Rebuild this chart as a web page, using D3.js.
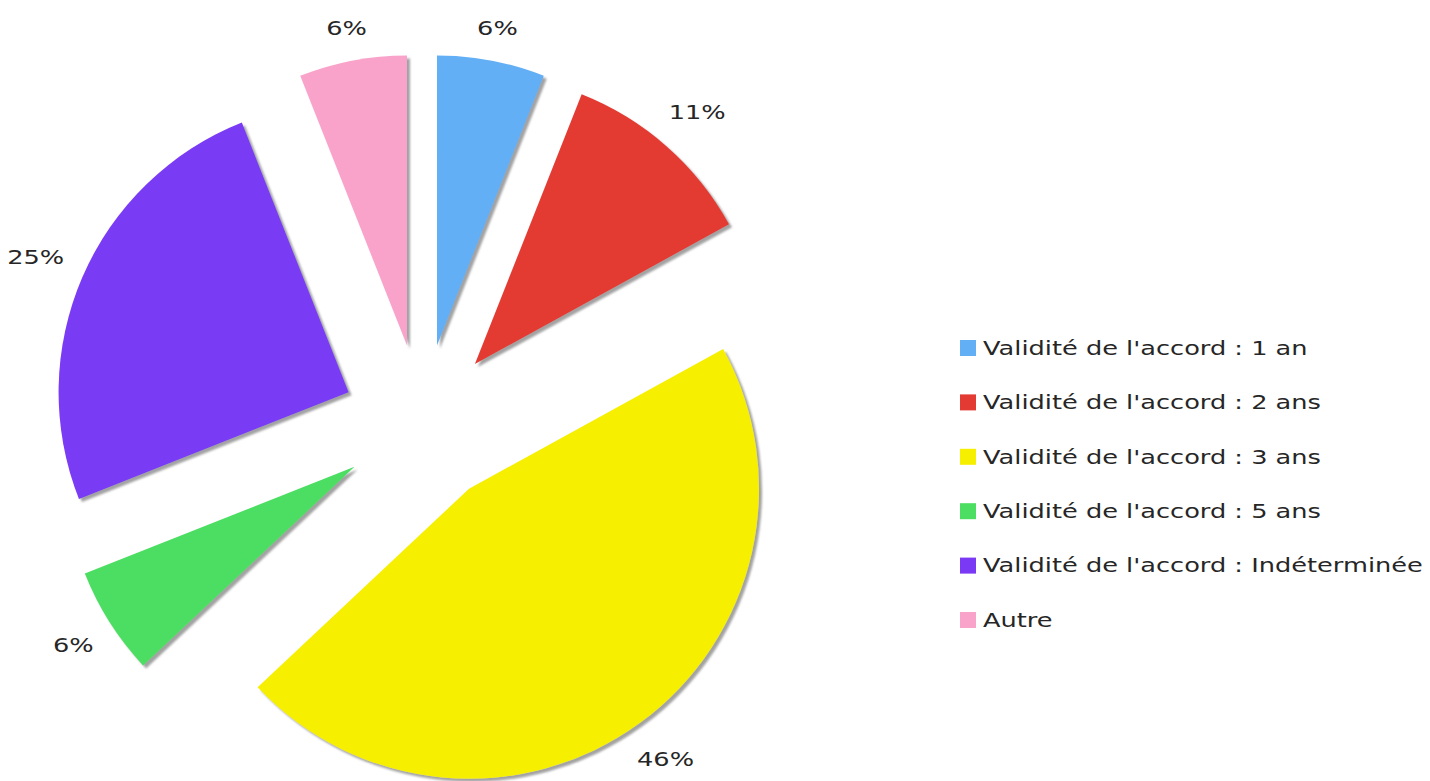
<!DOCTYPE html>
<html>
<head>
<meta charset="utf-8">
<script src="https://cdn.jsdelivr.net/npm/d3@7"></script>
<style>
  html, body { margin: 0; padding: 0; background: #ffffff; }
  svg { display: block; }
  text { font-family: "DejaVu Sans", Verdana, sans-serif; fill: #262626; }
</style>
</head>
<body>
<svg id="chart" width="1430" height="781"></svg>
<script>
// Durée de validité des accords (parts en %)
const categories = [
  "Validité de l'accord : 1 an",
  "Validité de l'accord : 2 ans",
  "Validité de l'accord : 3 ans",
  "Validité de l'accord : 5 ans",
  "Validité de l'accord : Indéterminée",
  "Autre"
];
const shares = [6, 11, 46, 6, 25, 6];
const colors = ["#62aff5", "#e33b33", "#f6ef00", "#4cde62", "#7a3af5", "#f9a3cb"];

const W = 1430, H = 781;
const cx = 422, cy = 424;       // pie centre
const radius = 290;
const slice = 80;               // every slice is pulled out by this distance
const labelR = 392;
const fontSize = 19;
const stretch = 1.35;           // wide lettering

const svg = d3.select("#chart");

const defs = svg.append("defs");
const shadow = defs.append("filter").attr("id", "shadow")
  .attr("x", "-10%").attr("y", "-10%").attr("width", "120%").attr("height", "120%");
shadow.append("feDropShadow")
  .attr("dx", 3).attr("dy", 3).attr("stdDeviation", 1.3)
  .attr("flood-color", "#707070").attr("flood-opacity", 0.65);

const pie = d3.pie().sort(null).value(d => d).startAngle(0).endAngle(2 * Math.PI);
const arcs = pie(shares);
const arc = d3.arc().innerRadius(0).outerRadius(radius);

const mid = a => (a.startAngle + a.endAngle) / 2;

const pieG = svg.append("g").attr("transform", `translate(${cx},${cy})`);

pieG.selectAll("path.slice")
  .data(arcs)
  .join("path")
  .attr("class", "slice")
  .attr("d", arc)
  .attr("fill", (d, i) => colors[i])
  .attr("filter", "url(#shadow)")
  .attr("transform", d => {
    const m = mid(d);
    return `translate(${slice * Math.sin(m)},${-slice * Math.cos(m)})`;
  });

// percentage labels outside each slice
const labels = pieG.selectAll("text.pct")
  .data(arcs)
  .join("text")
  .attr("class", "pct")
  .attr("font-size", fontSize)
  .attr("text-anchor", "middle")
  .text(d => d.data + "%");

labels.each(function(d) {
  const t = d3.select(this);
  const w = this.getComputedTextLength() * stretch;
  const h = fontSize * 0.73;
  const m = mid(d);
  const s = Math.sin(m), c = -Math.cos(m);
  const extra = Math.abs(s) * w / 2 + Math.abs(c) * h / 2;
  const x = (labelR + extra) * s;
  const y = (labelR + extra) * c;
  t.attr("transform", `translate(${x},${y + h / 2}) scale(${stretch},1)`);
});

// legend
const legendX = 960, textX = 983, legendY0 = 348, legendStep = 54.4;
const legend = svg.append("g");
const rows = legend.selectAll("g.row")
  .data(categories)
  .join("g")
  .attr("class", "row")
  .attr("transform", (d, i) => `translate(0,${legendY0 + i * legendStep})`);

rows.append("rect")
  .attr("x", legendX).attr("y", -8)
  .attr("width", 16).attr("height", 16)
  .attr("fill", (d, i) => colors[i]);

rows.append("text")
  .attr("font-size", fontSize)
  .attr("transform", `translate(${textX},${fontSize * 0.36}) scale(${stretch},1)`)
  .text(d => d);
</script>
</body>
</html>
